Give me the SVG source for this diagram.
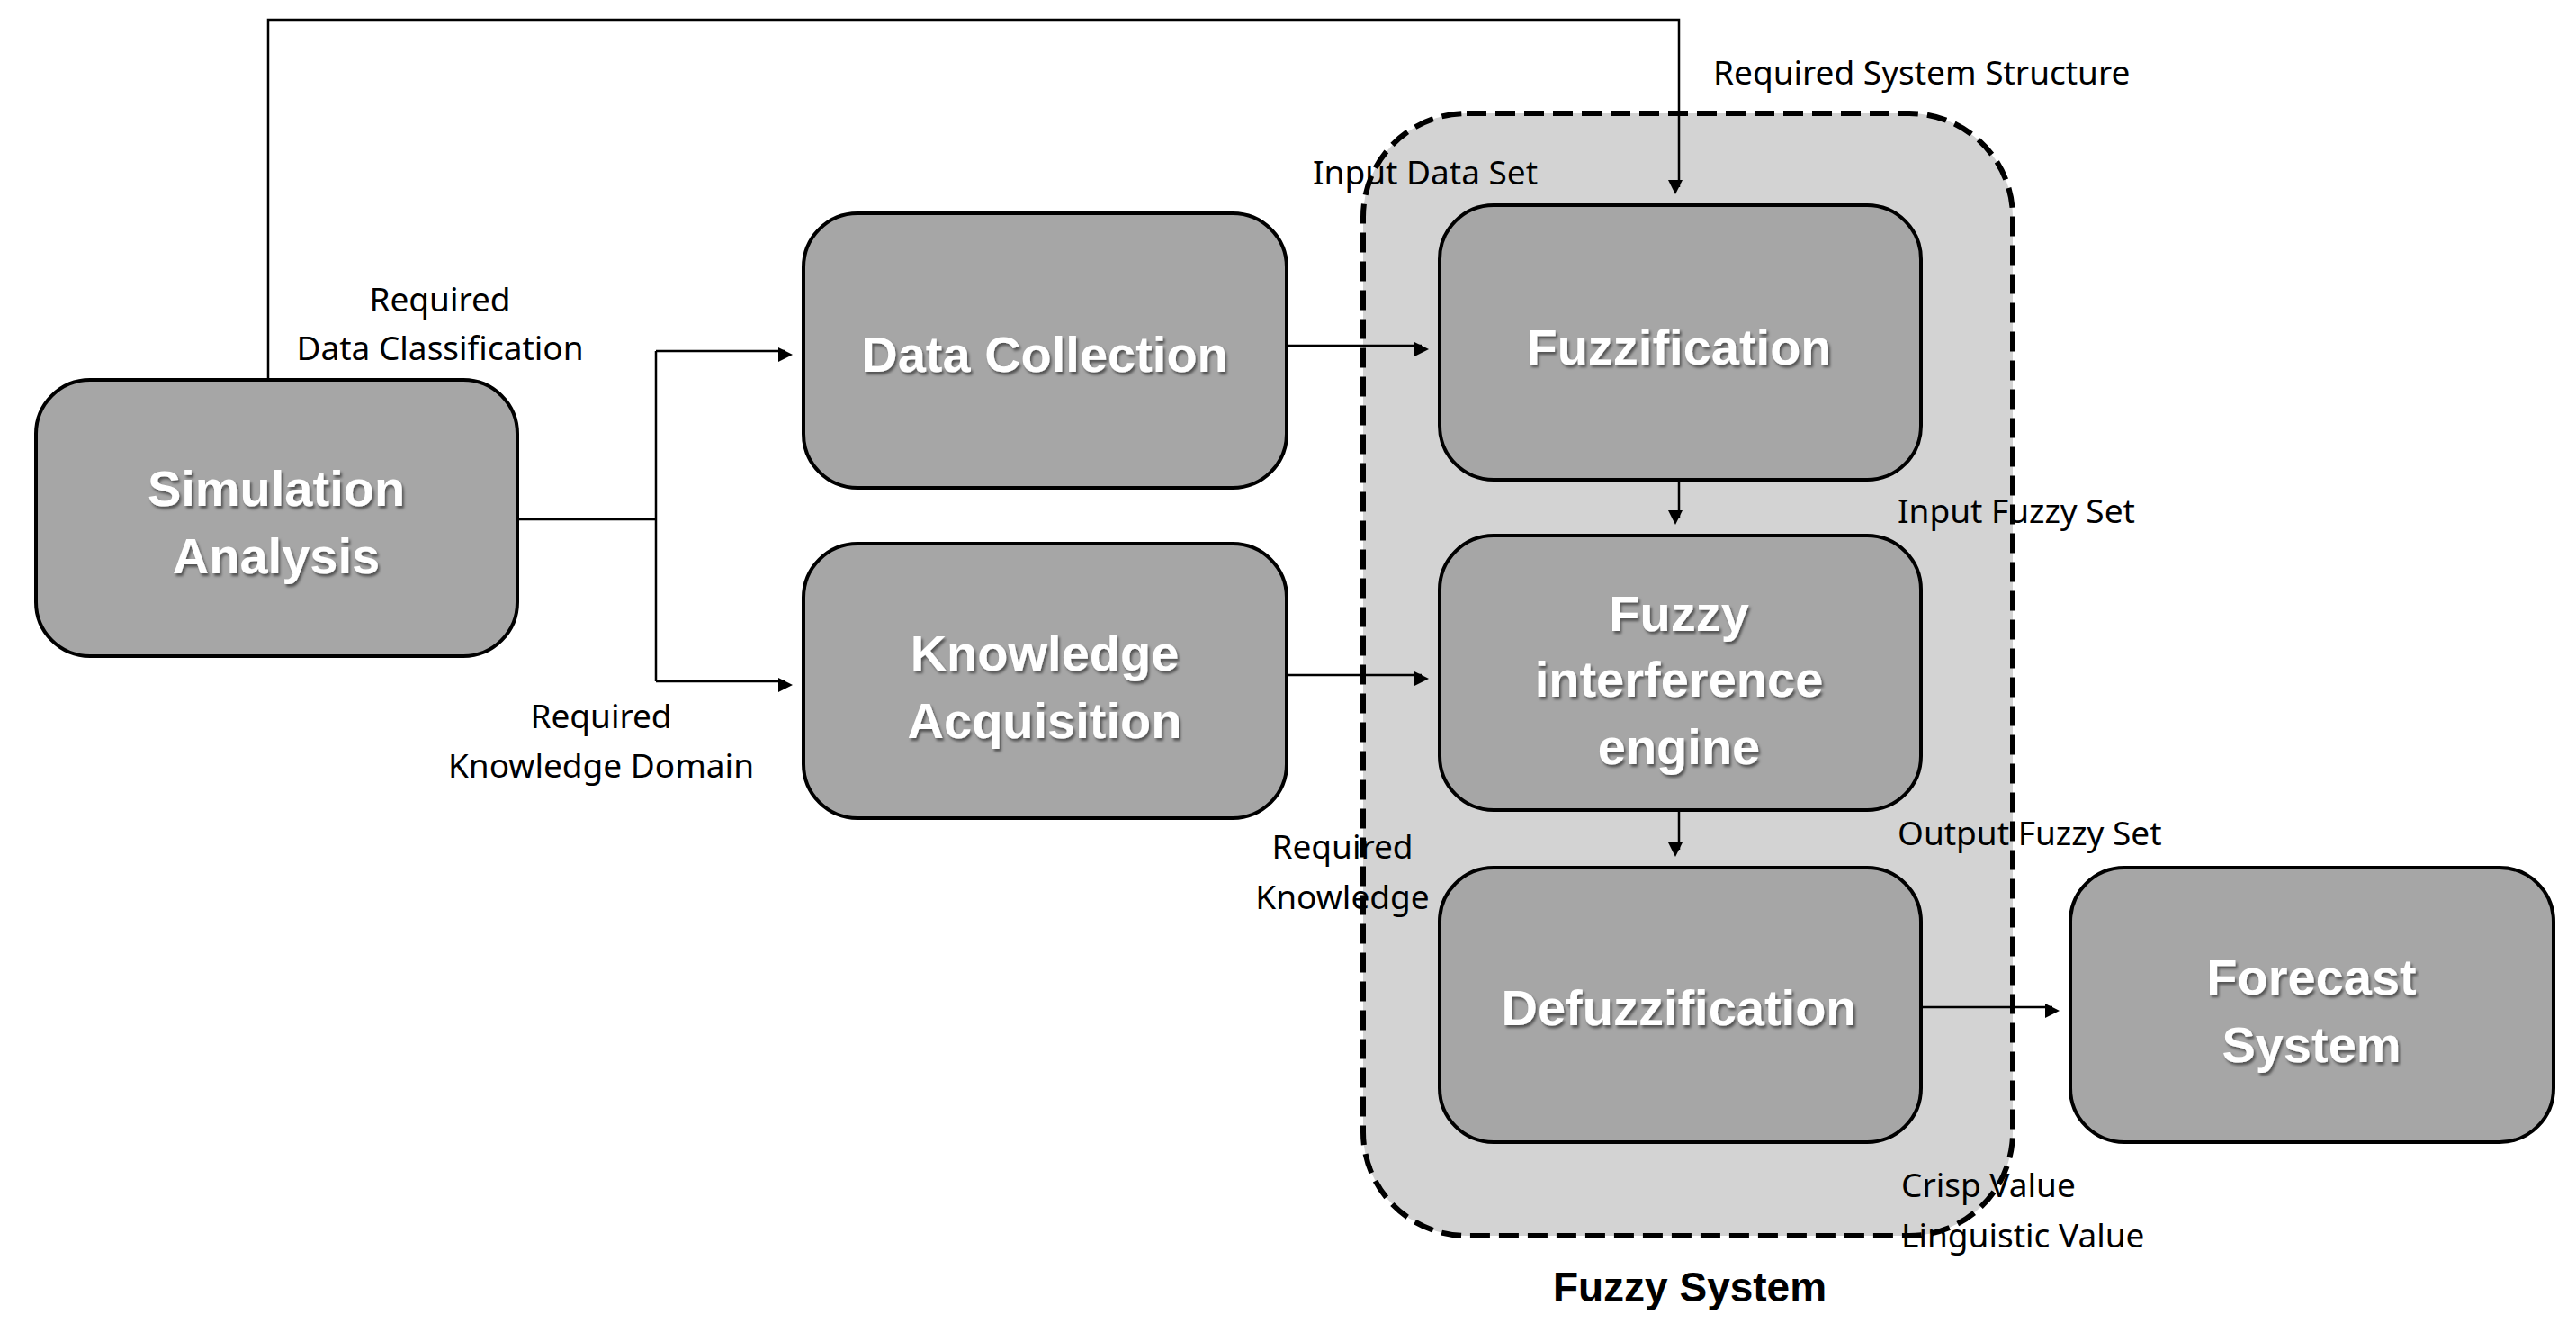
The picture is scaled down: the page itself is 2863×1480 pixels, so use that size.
<svg xmlns="http://www.w3.org/2000/svg" width="2863" height="1480" viewBox="0 0 2863 1480">
<style>
.node{fill:#a6a6a6;stroke:#000;stroke-width:4}
.nt{font-family:"Liberation Sans",Arial,sans-serif;font-weight:bold;font-size:56px;fill:#fff;text-anchor:middle;dominant-baseline:central;filter:url(#sh)}
.lb{font-family:"Noto Sans","Liberation Sans",sans-serif;font-size:37px;fill:#000;dominant-baseline:central}
.c{text-anchor:middle}
.ln{fill:none;stroke:#000;stroke-width:2.5}
</style>
<defs>
<marker id="ar" viewBox="0 0 10 10" refX="10" refY="5" markerWidth="8" markerHeight="8" orient="auto" markerUnits="userSpaceOnUse" style="overflow:visible"><path d="M0,0 L10,5 L0,10 z" transform="scale(2)" fill="#000"/></marker>
<filter id="sh" x="-10%" y="-10%" width="120%" height="140%"><feDropShadow dx="2" dy="3" stdDeviation="1.5" flood-color="#000" flood-opacity="0.5"/></filter>
</defs>
<rect width="2863" height="1480" fill="#fff"/>
<g id="fuzzy-system">
<rect x="1515" y="126" width="722" height="1247" rx="115" fill="#d3d3d3" stroke="#000" stroke-width="6" stroke-dasharray="22 10"/>
<text x="1878" y="1430" font-family="'Liberation Sans',Arial,sans-serif" font-weight="bold" font-size="46" text-anchor="middle" dominant-baseline="central">Fuzzy System</text>
</g>
<g id="connectors">
<path class="ln" d="M298,422 V22 H1866 V208" marker-end="url(#ar)"/>
<path class="ln" d="M575,577 H729"/>
<path class="ln" d="M729,390 V757"/>
<path class="ln" d="M729,390 H873" marker-end="url(#ar)"/>
<path class="ln" d="M729,757 H873" marker-end="url(#ar)"/>
<path class="ln" d="M1430,384 H1580" marker-end="url(#ar)"/>
<path class="ln" d="M1430,750 H1580" marker-end="url(#ar)"/>
<path class="ln" d="M1866,533 V575" marker-end="url(#ar)"/>
<path class="ln" d="M1866,900 V944" marker-end="url(#ar)"/>
<path class="ln" d="M2135,1119 H2281" marker-end="url(#ar)"/>
</g>
<g id="labels">
<text class="lb c" x="489" y="331">Required</text>
<text class="lb c" x="489" y="385">Data Classification</text>
<text class="lb c" x="668" y="794">Required</text>
<text class="lb c" x="668" y="849">Knowledge Domain</text>
<text class="lb" x="1459" y="190">Input Data Set</text>
<text class="lb" x="1904" y="79">Required System Structure</text>
<text class="lb" x="2109" y="566">Input Fuzzy Set</text>
<text class="lb" x="2109" y="924">Output Fuzzy Set</text>
<text class="lb c" x="1492" y="939">Required</text>
<text class="lb c" x="1492" y="995">Knowledge</text>
<text class="lb" x="2113" y="1315">Crisp Value</text>
<text class="lb" x="2113" y="1371">Linguistic Value</text>
</g>
<g id="simulation-analysis"><rect class="node" x="40" y="422" width="535" height="307" rx="60"/><text class="nt" x="307" y="542">Simulation</text><text class="nt" x="307" y="617">Analysis</text></g>
<g id="data-collection"><rect class="node" x="893" y="237" width="537" height="305" rx="60"/><text class="nt" x="1161" y="393">Data Collection</text></g>
<g id="knowledge-acquisition"><rect class="node" x="893" y="604" width="537" height="305" rx="60"/><text class="nt" x="1161" y="725">Knowledge</text><text class="nt" x="1161" y="800">Acquisition</text></g>
<g id="fuzzification"><rect class="node" x="1600" y="228" width="535" height="305" rx="60"/><text class="nt" x="1866" y="385">Fuzzification</text></g>
<g id="fuzzy-interference-engine"><rect class="node" x="1600" y="595" width="535" height="305" rx="60"/><text class="nt" x="1866" y="681">Fuzzy</text><text class="nt" x="1866" y="754">interference</text><text class="nt" x="1866" y="829">engine</text></g>
<g id="defuzzification"><rect class="node" x="1600" y="964" width="535" height="305" rx="60"/><text class="nt" x="1866" y="1119">Defuzzification</text></g>
<g id="forecast-system"><rect class="node" x="2301" y="964" width="537" height="305" rx="60"/><text class="nt" x="2569" y="1085">Forecast</text><text class="nt" x="2569" y="1160">System</text></g>
</svg>
